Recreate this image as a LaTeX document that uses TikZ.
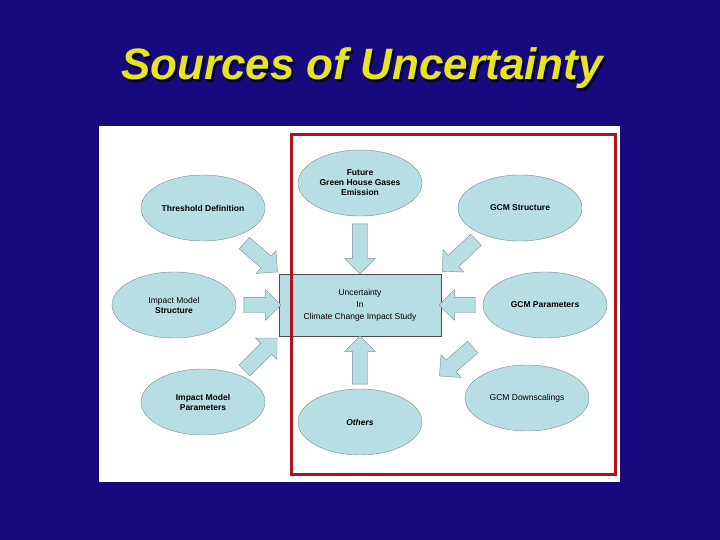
\documentclass[tikz,border=0pt]{standalone}
\usepackage{fontspec}
\setmainfont{Liberation Sans}
\usetikzlibrary{shapes.geometric,shapes.arrows}
\definecolor{navy}{HTML}{170A7E}
\definecolor{cyanfill}{HTML}{B7DEE2}
\definecolor{edge}{HTML}{7F8C8E}
\definecolor{redbox}{HTML}{B4101A}
\definecolor{titley}{HTML}{E6E61E}
\tikzset{
  oval/.style={ellipse, draw=edge, fill=cyanfill, minimum width=124pt, minimum height=66pt, inner sep=0pt, align=center, font=\fontsize{8.5}{10}\selectfont\bfseries},
  barrow/.style={single arrow, draw=edge, fill=cyanfill, inner xsep=0pt, inner ysep=7.5pt, single arrow head extend=7.5pt, single arrow head indent=0pt},
}
\begin{document}
\begin{tikzpicture}[x=1pt,y=-1pt]
\fill[navy] (0,0) rectangle (720,540);
\useasboundingbox (0,0) rectangle (720,540);
\node[font=\fontsize{44}{48}\selectfont\bfseries\itshape, text=black!70!navy] (shadow) at (364,71) {Sources of Uncertainty};
\node[font=\fontsize{44}{48}\selectfont\bfseries\itshape, text=titley] (title) at (362,68) {Sources of Uncertainty};
\fill[white] (99,126) rectangle (620,482);
\node[oval] (fut) at (360,183) {Future\\Green House Gases\\Emission};
\node[oval] (thr) at (203,208) {Threshold Definition};
\node[oval] (gs) at (520,208) {GCM Structure};
\node[oval] (ims) at (174,305) {\mdseries Impact Model\\Structure};
\node[oval] (gp) at (545,305) {GCM Parameters};
\node[oval] (imp) at (203,402) {Impact Model\\Parameters};
\node[oval] (oth) at (360,422) {\itshape Others};
\node[oval] (gd) at (527,398) {\mdseries GCM Downscalings};
\node[draw=black!70, fill=cyanfill, minimum width=162pt, minimum height=62pt, inner sep=0pt, align=center, font=\fontsize{8.5}{12}\selectfont] (c) at (360,305) {Uncertainty\\In\\Climate Change Impact Study};
\node[barrow, minimum height=50pt, rotate=-90] (a1) at (360,245) {};
\node[barrow, minimum height=48pt, rotate=90] (a2) at (360,364) {};
\node[barrow, minimum height=37pt] (a3) at (258.5,305) {};
\node[barrow, minimum height=36pt, rotate=180] (a4) at (461,305) {};
\node[barrow, minimum height=44pt, rotate=-41] (a5) at (258,255) {};
\node[barrow, minimum height=46pt, rotate=-137] (a6) at (462,253) {};
\node[barrow, minimum height=46pt, rotate=45] (a7) at (258,357) {};
\node[barrow, minimum height=44pt, rotate=-139] (a8) at (459,359) {};
\draw[redbox, line width=3pt] (291,135) rectangle (615,474);
\end{tikzpicture}
\end{document}
